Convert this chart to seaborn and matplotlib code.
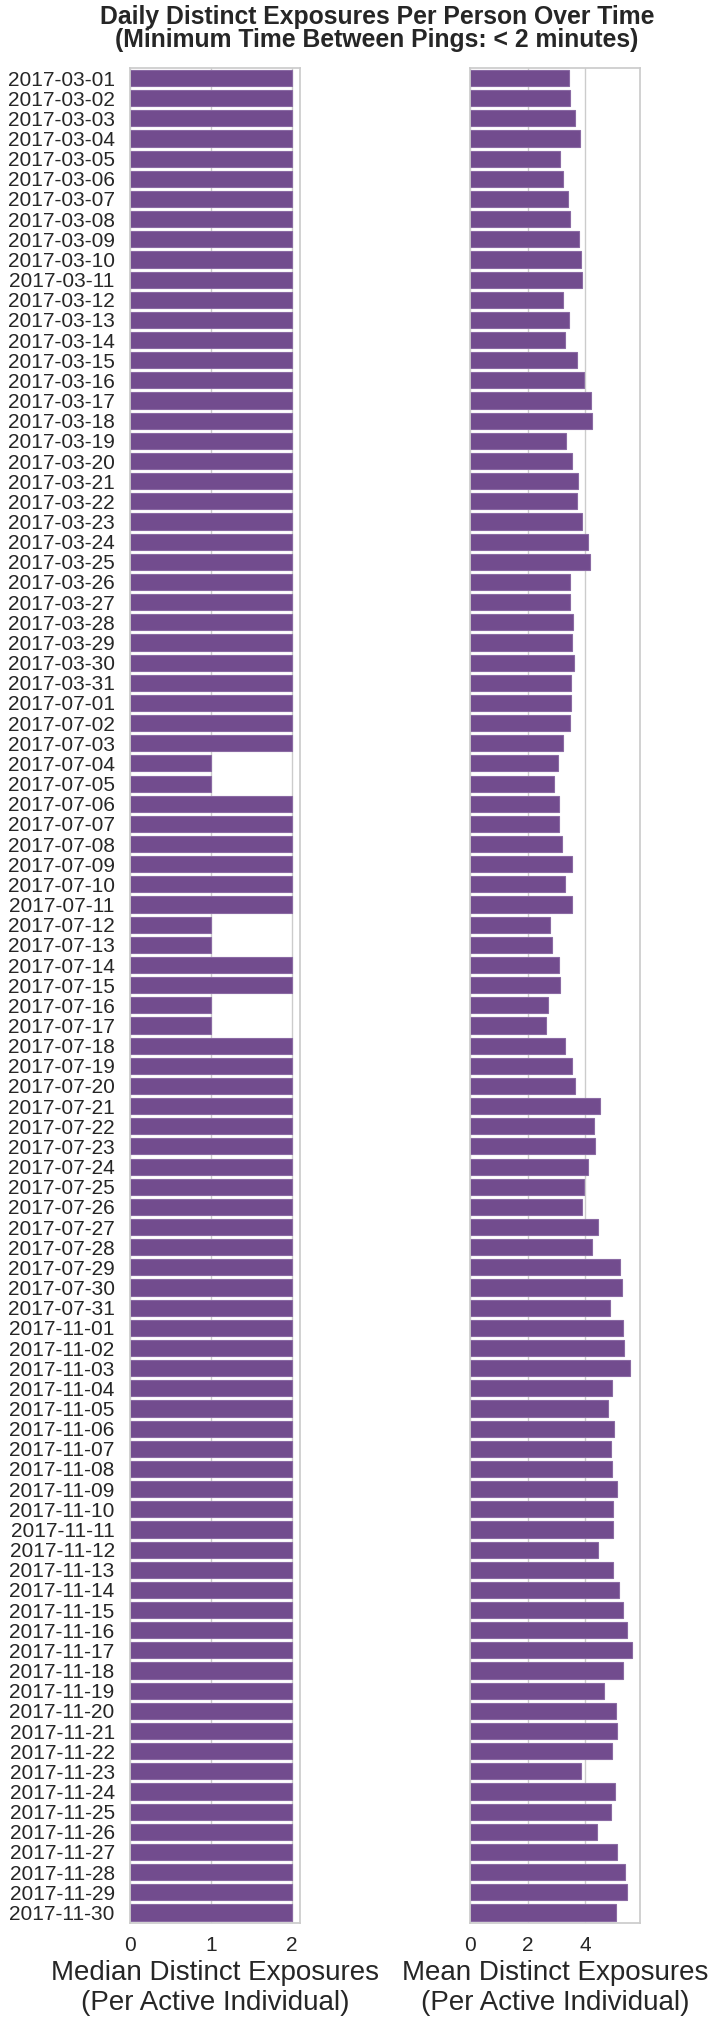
import numpy as np
import pandas as pd
import seaborn as sns
import matplotlib.pyplot as plt

sns.set_theme(style='whitegrid')
plt.rcParams['font.family'] = ['Liberation Sans', 'DejaVu Sans']

# dates: March, July, November 2017
march = [f'2017-03-{d:02d}' for d in range(1, 32)]
july = [f'2017-07-{d:02d}' for d in range(1, 32)]
november = [f'2017-11-{d:02d}' for d in range(1, 31)]
dates = march + july + november

median_march = [2] * 31
median_july = [2, 2, 2, 1, 1, 2, 2, 2, 2, 2, 2, 1, 1, 2, 2, 1,
               1, 2, 2, 2, 2, 2, 2, 2, 2, 2, 2, 2, 2, 2, 2]
median_november = [2] * 30

mean_march = [3.43, 3.46, 3.63, 3.80, 3.11, 3.22, 3.39, 3.46, 3.77, 3.84,
              3.87, 3.22, 3.43, 3.29, 3.70, 3.94, 4.18, 4.22, 3.32, 3.53,
              3.74, 3.70, 3.87, 4.08, 4.15, 3.46, 3.46, 3.56, 3.53, 3.60,
              3.49]
mean_july = [3.49, 3.46, 3.22, 3.05, 2.91, 3.08, 3.08, 3.18, 3.53, 3.29,
             3.53, 2.77, 2.84, 3.08, 3.11, 2.70, 2.63, 3.29, 3.53, 3.63,
             4.49, 4.29, 4.32, 4.08, 3.94, 3.87, 4.43, 4.22, 5.18, 5.25,
             4.84]
mean_november = [5.29, 5.32, 5.53, 4.91, 4.77, 4.98, 4.87, 4.91, 5.08, 4.94,
                 4.94, 4.43, 4.94, 5.15, 5.29, 5.43, 5.60, 5.29, 4.63, 5.05,
                 5.08, 4.91, 3.84, 5.01, 4.87, 4.39, 5.11, 5.36, 5.43, 5.05]

df = pd.DataFrame({
    'date': dates,
    'median': median_march + median_july + median_november,
    'mean': mean_march + mean_july + mean_november,
})

bar_color = '#724c8e'

fig, axes = plt.subplots(1, 2, figsize=(7.18, 20.28), dpi=100, sharey=True)
fig.subplots_adjust(left=0.181, right=0.891, top=0.9665, bottom=0.052, wspace=1.0)

sns.barplot(x='median', y='date', data=df, ax=axes[0], color=bar_color, saturation=1)
sns.barplot(x='mean', y='date', data=df, ax=axes[1], color=bar_color, saturation=1)

axes[0].set_xlabel('Median Distinct Exposures\n(Per Active Individual)', fontsize=20)
axes[1].set_xlabel('Mean Distinct Exposures\n(Per Active Individual)', fontsize=20)
axes[0].set_xticks([0, 1, 2])
axes[1].set_xticks([0, 2, 4])
for ax in axes:
    ax.set_ylabel('')
    ax.tick_params(axis='x', labelsize=15)
    ax.tick_params(axis='y', labelsize=15, pad=5)
    ax.grid(axis='y', visible=False)
    for p in ax.patches:
        p.set_edgecolor('#8a6aa3')
        p.set_linewidth(0.8)

fig.suptitle('Daily Distinct Exposures Per Person Over Time\n(Minimum Time Between Pings: < 2 minutes)',
             fontsize=17.8, fontweight='bold', x=0.525, y=0.9975, va='top', linespacing=0.93)

plt.savefig('out.png', dpi=100)
